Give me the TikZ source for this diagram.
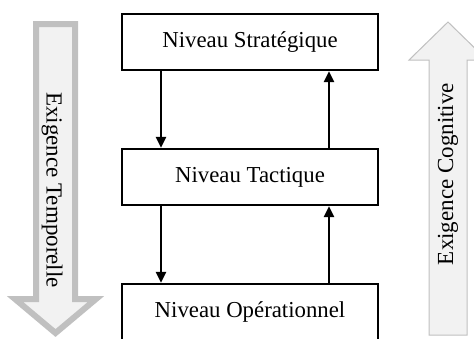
\documentclass[tikz,border=0pt]{standalone}
\usepackage{fontspec}
\setmainfont{Liberation Serif}
\usetikzlibrary{arrows.meta}
\definecolor{arrowfill}{HTML}{F2F2F2}
\definecolor{arrowline}{HTML}{C0C0C0}
\tikzset{
  levelbox/.style={draw=black, line width=2.2pt, fill=white, minimum width=256pt, minimum height=56pt, inner sep=0pt, font=\fontsize{22.8}{27}\selectfont},
  flow/.style={line width=2.2pt, -{Triangle[width=10pt,length=11pt]}},
  biglabel/.style={font=\fontsize{23}{27}\selectfont, inner sep=0pt}
}
\begin{document}
\begin{tikzpicture}[x=1pt,y=-1pt]
\useasboundingbox (0,0) rectangle (474,338);
% left big arrow
\draw[line width=6pt, draw=arrowline, fill=arrowfill, line join=miter]
  (36,24) -- (75,24) -- (75,299) -- (96,299) -- (55.5,333) -- (15,299) -- (36,299) -- cycle;
\node[biglabel, rotate=-90] (tl) at (52,190) {Exigence Temporelle};
% right big arrow
\draw[line width=1pt, draw=arrowline, fill=arrowfill]
  (429,335) -- (429,60) -- (409,60) -- (448,22) -- (487,60) -- (467,60) -- (467,335) -- cycle;
\node[biglabel, rotate=90] (cl) at (448,174) {Exigence Cognitive};
% boxes
\node[levelbox] (b1) at (250,42) {Niveau Stratégique};
\node[levelbox] (b2) at (250,177) {Niveau Tactique};
\node[levelbox] (b3) at (250,312) {Niveau Opérationnel};
% connectors
\draw[flow] ([xshift=-89pt]b1.south) -- ([xshift=-89pt]b2.north);
\draw[flow] ([xshift=-89pt]b2.south) -- ([xshift=-89pt]b3.north);
\draw[flow] ([xshift=79pt]b2.north) -- ([xshift=79pt]b1.south);
\draw[flow] ([xshift=79pt]b3.north) -- ([xshift=79pt]b2.south);
\end{tikzpicture}
\end{document}
